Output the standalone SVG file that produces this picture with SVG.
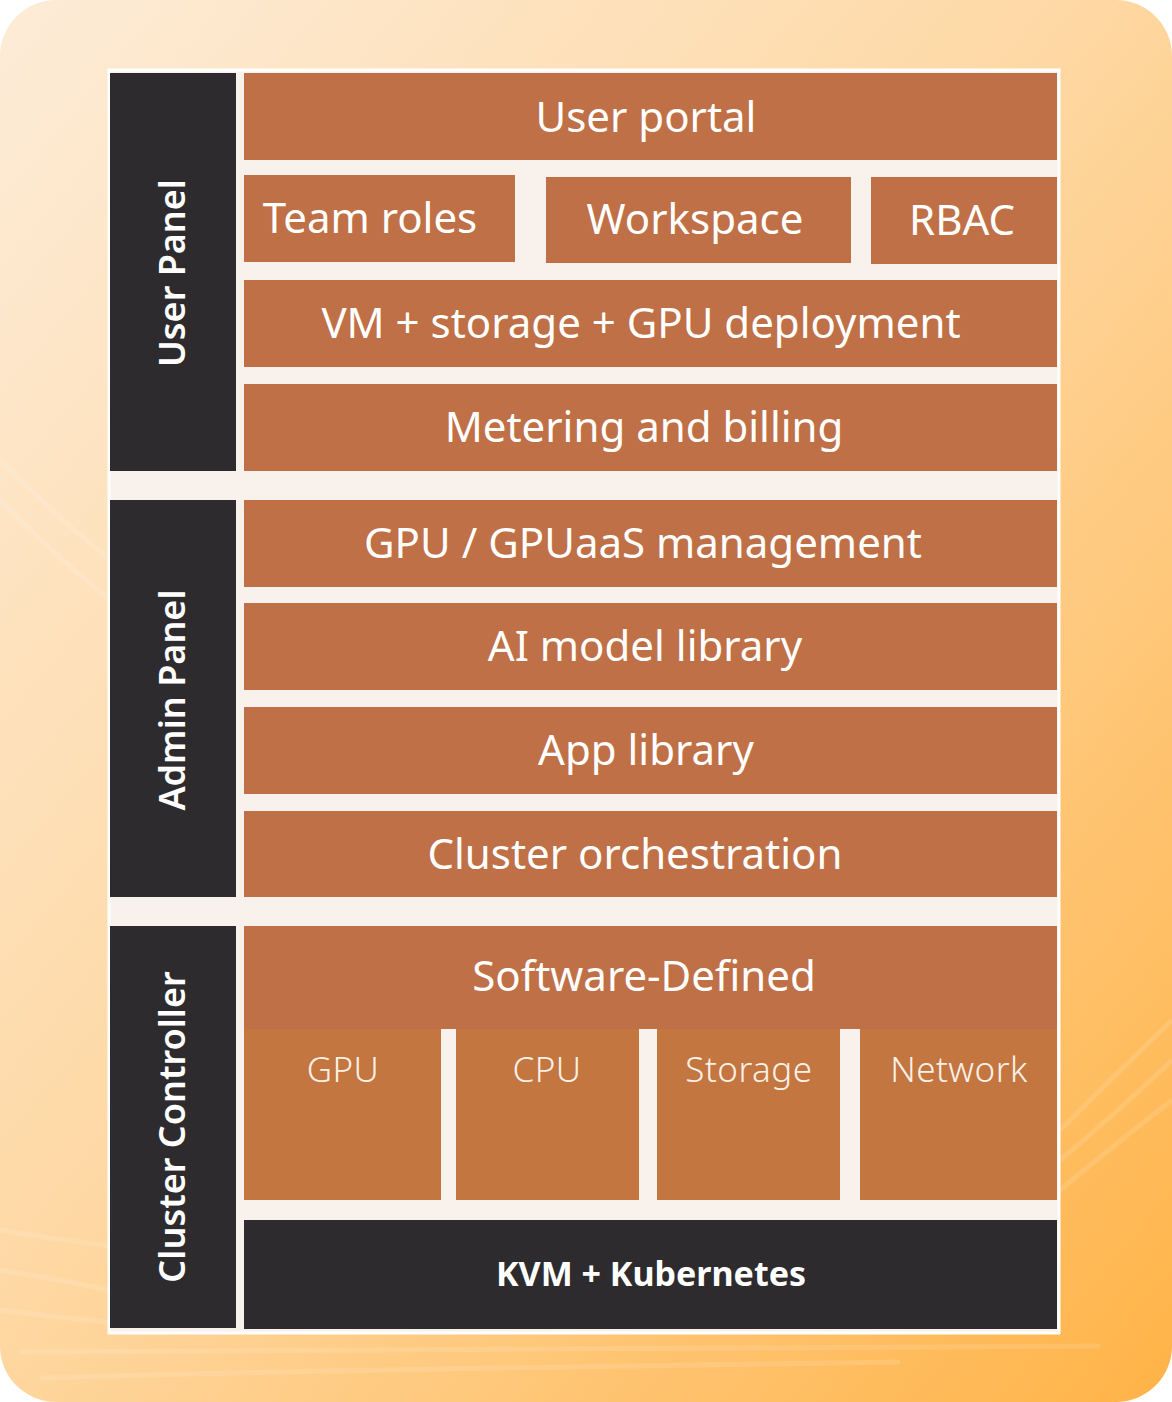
<svg xmlns="http://www.w3.org/2000/svg" width="1172" height="1402" viewBox="0 0 1172 1402">
  <defs>
    <linearGradient id="bg" x1="0" y1="0" x2="1" y2="1">
      <stop offset="0" stop-color="#fdecd8"/>
      <stop offset="0.45" stop-color="#fed9a6"/>
      <stop offset="1" stop-color="#ffb347"/>
    </linearGradient>
    <style>
      .box { fill: #bf7046; }
      .sub { fill: #c47640; }
      .dark { fill: #2e2b2e; }
      .t { font-family: "Noto Sans", Lato, sans-serif; fill: #ffffff; text-anchor: middle; font-size: 42px; }
      .s { font-family: "Noto Sans", Lato, sans-serif; fill: #fbf1e8; text-anchor: middle; font-size: 35px; font-weight: 300; letter-spacing: 0.5px; }
      .v { font-family: "Noto Sans", Lato, sans-serif; fill: #ffffff; text-anchor: middle; font-size: 36px; font-weight: 600; }
      .k { font-family: "Noto Sans", Lato, sans-serif; fill: #ffffff; text-anchor: middle; font-size: 34px; font-weight: 700; }
      .stripe { fill: none; stroke: #ffffff; stroke-opacity: 0.12; stroke-width: 5; }
    </style>
  </defs>
  <rect x="0" y="0" width="1172" height="1402" fill="#ffffff"/>
  <rect x="0" y="0" width="1172" height="1402" rx="56" ry="56" fill="url(#bg)"/>
  <g id="stripes">
    <path class="stripe" d="M0 1230 Q60 1240 110 1246"/>
    <path class="stripe" d="M0 1270 Q60 1280 110 1290"/>
    <path class="stripe" d="M0 1310 Q60 1318 110 1322"/>
    <path class="stripe" d="M20 1352 Q300 1350 1100 1346"/>
    <path class="stripe" d="M40 1378 Q300 1370 900 1362"/>
    <path class="stripe" d="M1060 1130 Q1120 1070 1172 1020"/>
    <path class="stripe" d="M1060 1160 Q1120 1110 1172 1060"/>
    <path class="stripe" d="M1060 1190 Q1120 1140 1172 1100"/>
    <path class="stripe" d="M0 460 Q60 520 110 560"/>
    <path class="stripe" d="M0 500 Q60 560 110 600"/>
  </g>
  <rect id="panel" x="109" y="70" width="950" height="1263" fill="#f9f2ec" stroke="#ffffff" stroke-width="3"/>

  <g id="user-panel"><rect class="dark" x="110" y="73" width="126" height="398"/><text class="v" transform="translate(185 273) rotate(-90)">User Panel</text></g>
  <g id="admin-panel"><rect class="dark" x="110" y="500" width="126" height="397"/><text class="v" transform="translate(185 700) rotate(-90)">Admin Panel</text></g>
  <g id="cluster-controller"><rect class="dark" x="110" y="926" width="126" height="402"/><text class="v" transform="translate(185 1127) rotate(-90)">Cluster Controller</text></g>

  <g id="user-portal"><rect class="box" x="244" y="73" width="813" height="87"/><text class="t" x="646" y="132">User portal</text></g>
  <g id="team-roles"><rect class="box" x="244" y="175" width="271" height="87"/><text class="t" x="370" y="233">Team roles</text></g>
  <g id="workspace"><rect class="box" x="546" y="177" width="305" height="86"/><text class="t" x="695" y="234">Workspace</text></g>
  <g id="rbac"><rect class="box" x="871" y="177" width="186" height="87"/><text class="t" x="962" y="235">RBAC</text></g>
  <g id="vm-storage-gpu"><rect class="box" x="244" y="280" width="813" height="87"/><text class="t" x="641" y="338">VM + storage + GPU deployment</text></g>
  <g id="metering"><rect class="box" x="244" y="384" width="813" height="87"/><text class="t" x="644" y="442">Metering and billing</text></g>
  <g id="gpuaas"><rect class="box" x="244" y="500" width="813" height="87"/><text class="t" x="643" y="558">GPU / GPUaaS management</text></g>
  <g id="ai-model"><rect class="box" x="244" y="603" width="813" height="87"/><text class="t" x="645" y="661">AI model library</text></g>
  <g id="app-library"><rect class="box" x="244" y="707" width="813" height="87"/><text class="t" x="646" y="765">App library</text></g>
  <g id="cluster-orch"><rect class="box" x="244" y="811" width="813" height="86"/><text class="t" x="635" y="869">Cluster orchestration</text></g>

  <g id="software-defined">
    <rect class="box" x="244" y="926" width="813" height="103"/>
    <text class="t" x="644" y="991">Software-Defined</text>
  </g>
  <g id="gpu"><rect class="sub" x="244" y="1029" width="197" height="171"/><text class="s" x="343" y="1082">GPU</text></g>
  <g id="cpu"><rect class="sub" x="456" y="1029" width="183" height="171"/><text class="s" x="547" y="1082">CPU</text></g>
  <g id="storage"><rect class="sub" x="657" y="1029" width="183" height="171"/><text class="s" x="749" y="1082">Storage</text></g>
  <g id="network"><rect class="sub" x="860" y="1029" width="197" height="171"/><text class="s" x="959" y="1082">Network</text></g>
  <g id="kvm"><rect class="dark" x="244" y="1220" width="813" height="109"/><text class="k" x="651" y="1286">KVM + Kubernetes</text></g>
  <g id="connectors"></g>
</svg>
